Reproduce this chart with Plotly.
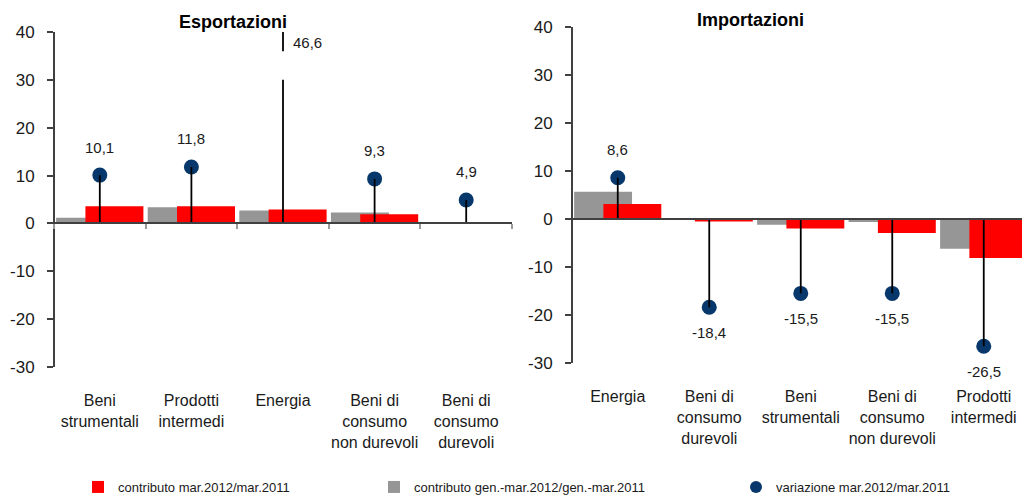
import plotly.graph_objects as go

# Export side (Esportazioni)
exp_categories = ["Beni<br>strumentali", "Prodotti<br>intermedi", "Energia",
                  "Beni di<br>consumo<br>non durevoli", "Beni di<br>consumo<br>durevoli"]
exp_contrib_mar = [3.6, 3.6, 2.9, 1.9, 0.0]          # contributo mar.2012/mar.2011
exp_contrib_genmar = [1.2, 3.4, 2.7, 2.3, 0.0]       # contributo gen.-mar.2012/gen.-mar.2011
exp_variazione = [10.1, 11.8, 46.6, 9.3, 4.9]        # variazione mar.2012/mar.2011

# Import side (Importazioni)
imp_categories = ["Energia", "Beni di<br>consumo<br>durevoli", "Beni<br>strumentali",
                  "Beni di<br>consumo<br>non durevoli", "Prodotti<br>intermedi"]
imp_contrib_mar = [3.1, -0.5, -2.0, -2.9, -8.1]
imp_contrib_genmar = [5.7, -0.1, -1.2, -0.6, -6.2]
imp_variazione = [8.6, -18.4, -15.5, -15.5, -26.5]

y_ticks = [-30, -20, -10, 0, 10, 20, 30, 40]
y_ticktext = [str(v) for v in y_ticks]   # plain hyphen for negatives
legend_names = ["contributo mar.2012/mar.2011",
                "contributo gen.-mar.2012/gen.-mar.2011",
                "variazione mar.2012/mar.2011"]

FONT = "Liberation Sans, Arial, sans-serif"
TXT = "#1a1a1a"
RED = "#FF0000"
GREY = "#969696"
NAVY = "#08386B"
AXIS = "#404040"
Y_MIN, Y_MAX = -30, 40
BREAK_LOW, BREAK_HIGH = 30, 36   # gap drawn on stems that leave the scale
BAR_W = 0.633

fig = go.Figure()


def fmt(v):
    return f"{v:.1f}".replace(".", ",")


def add_panel(cats, mar, genmar, var, xa, ya, show_legend):
    fig.add_trace(go.Bar(x=cats, y=genmar, width=BAR_W, offset=-0.477,
                         marker=dict(color=GREY, line=dict(width=0)),
                         name=legend_names[1], legend="legend2",
                         showlegend=show_legend, xaxis=xa, yaxis=ya))
    fig.add_trace(go.Bar(x=cats, y=mar, width=BAR_W, offset=-0.157,
                         marker=dict(color=RED, line=dict(width=0)),
                         name=legend_names[0], legend="legend",
                         showlegend=show_legend, xaxis=xa, yaxis=ya))
    fig.add_trace(go.Scatter(x=cats, y=var, mode="markers",
                             marker=dict(color=NAVY, size=15),
                             name=legend_names[2], legend="legend3",
                             showlegend=show_legend, xaxis=xa, yaxis=ya))
    # stems from zero to each point, broken when the value leaves the scale
    sx, sy = [], []
    for c, v in zip(cats, var):
        if v > Y_MAX:
            sx += [c, c, None, c, c, None]
            sy += [0, BREAK_LOW, None, BREAK_HIGH, Y_MAX, None]
        else:
            sx += [c, c, None]
            sy += [0, v, None]
    fig.add_trace(go.Scatter(x=sx, y=sy, mode="lines",
                             line=dict(color="black", width=1.8),
                             showlegend=False, hoverinfo="skip",
                             xaxis=xa, yaxis=ya, cliponaxis=False))
    xref = "x" if xa == "x" else "x2"
    yref = "y" if ya == "y" else "y2"
    for c, v in zip(cats, var):
        if v > Y_MAX:
            fig.add_annotation(x=c, y=Y_MAX, xref=xref, yref=yref, text=fmt(v),
                               showarrow=False, xshift=24, yshift=-11,
                               font=dict(size=15, color=TXT, family=FONT))
        else:
            fig.add_annotation(x=c, y=v, xref=xref, yref=yref, text=fmt(v),
                               showarrow=False, yshift=28 if v >= 0 else -25,
                               font=dict(size=15, color=TXT, family=FONT))


add_panel(exp_categories, exp_contrib_mar, exp_contrib_genmar, exp_variazione, "x", "y", True)
add_panel(imp_categories, imp_contrib_mar, imp_contrib_genmar, imp_variazione, "x2", "y2", False)

W, H = 1022, 497
left_dom = [54 / W, 512 / W]
right_dom = [572 / W, 1.0]
left_ydom = [1 - 367 / H, 1 - 32 / H]
right_ydom = [1 - 363 / H, 1 - 27 / H]

yax = dict(range=[Y_MIN, Y_MAX], tickvals=y_ticks, ticktext=y_ticktext,
           showgrid=False, zeroline=False, automargin=False,
           showline=True, linecolor=AXIS, linewidth=2, ticks="outside",
           ticklen=6, tickwidth=1.5, tickcolor=AXIS, ticklabelstandoff=9,
           tickfont=dict(size=17, color=TXT, family=FONT))
xax = dict(type="category", showgrid=False, zeroline=False, showline=True,
           linecolor=AXIS, linewidth=2, anchor="free", automargin=False,
           tickangle=0, tickfont=dict(size=16, color=TXT, family=FONT),
           ticklabelstandoff=163)

legend_common = dict(orientation="h", y=1 - 487 / H, yanchor="middle",
                     xanchor="left", font=dict(size=13, family=FONT, color=TXT),
                     bgcolor="rgba(0,0,0,0)")

fig.update_layout(
    width=W, height=H, margin=dict(l=0, r=0, t=0, b=0, autoexpand=False),
    paper_bgcolor="white", plot_bgcolor="white",
    barmode="overlay",
    font=dict(family=FONT, color=TXT),
    xaxis=dict(xax, domain=left_dom, range=[-0.5, 4.5],
               position=1 - 223 / H, ticks="outside", tickson="boundaries",
               ticklen=5, tickcolor="#9a9a9a", tickwidth=1.5),
    yaxis=dict(yax, domain=left_ydom, anchor="free", position=left_dom[0]),
    xaxis2=dict(xax, domain=right_dom, range=[-0.5, -0.5 + 450 / 91.5],
                position=1 - 219 / H, ticks=""),
    yaxis2=dict(yax, domain=right_ydom, anchor="free", position=right_dom[0]),
    legend=dict(legend_common, x=78 / W),
    legend2=dict(legend_common, x=374 / W),
    legend3=dict(legend_common, x=736 / W, itemsizing="constant"),
    annotations=list(fig.layout.annotations) + [
        dict(text="<b>Esportazioni</b>", x=233 / W, y=1 - 22 / H, xref="paper",
             yref="paper", xanchor="center", yanchor="middle", showarrow=False,
             font=dict(size=18, family=FONT, color="black")),
        dict(text="<b>Importazioni</b>", x=750 / W, y=1 - 20 / H, xref="paper",
             yref="paper", xanchor="center", yanchor="middle", showarrow=False,
             font=dict(size=18, family=FONT, color="black")),
    ],
)

fig.write_html("out.html")
